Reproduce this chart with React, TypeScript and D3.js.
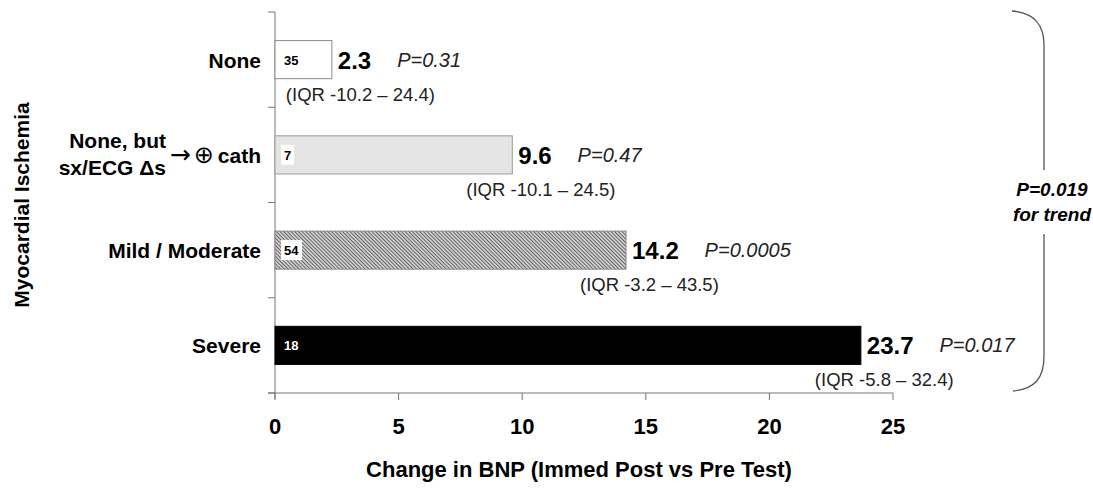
import * as d3 from "d3";

// categories top to bottom
const categories = ["None", "None, but sx/ECG Δs → ⊕ cath", "Mild / Moderate", "Severe"];
const medianChange = [2.3, 9.6, 14.2, 23.7];
const counts = [35, 7, 54, 18];
const pValues = ["P=0.31", "P=0.47", "P=0.0005", "P=0.017"];
const iqrLabels = ["(IQR -10.2 – 24.4)", "(IQR -10.1 – 24.5)", "(IQR -3.2 – 43.5)", "(IQR -5.8 – 32.4)"];
const xTicks = [0, 5, 10, 15, 20, 25];
const trendLabel = ["P=0.019", "for trend"];

const W = 1093;
const H = 491;
const FONT = "'Liberation Sans', Arial, Helvetica, sans-serif";

const fills = ["#ffffff", "url(#stipple)", "url(#hatch)", "#000000"];
const strokes = ["#8a8a8a", "#9a9a9a", "#8a8a8a", "#000000"];

export default function App() {
  const x = d3.scaleLinear().domain([0, 25]).range([275, 893]);
  const y = d3
    .scaleBand<string>()
    .domain(categories)
    .range([12, 393])
    .paddingInner(0.6)
    .paddingOuter(0.3);

  const step = y.step();
  const top = 12;
  const axisY = 393;
  // separator ticks on the category axis
  const catTicks = d3.range(categories.length + 1).map((i) => top + i * step);

  // rough width of a bold 24px number label
  const numWidth = (s: string) =>
    s.split("").reduce((a, c) => a + (c === "." ? 6.7 : 13.3), 0);

  return (
    <svg
      width={W}
      height={H}
      style={{ position: "absolute", left: 0, top: 0, background: "#fff" }}
      fontFamily={FONT}
    >
      <defs>
        <pattern id="hatch" width="2.6" height="2.6" patternUnits="userSpaceOnUse" patternTransform="rotate(-45)">
          <rect width="2.6" height="2.6" fill="#cfcfcf" />
          <line x1="0" y1="0" x2="0" y2="2.6" stroke="#404040" strokeWidth="1.4" />
        </pattern>
        <pattern id="stipple" width="4" height="4" patternUnits="userSpaceOnUse">
          <rect width="4" height="4" fill="#e6e6e6" />
          <rect x="1" y="1" width="1" height="1" fill="#d6d6d6" />
          <rect x="3" y="3" width="1" height="1" fill="#dcdcdc" />
        </pattern>
      </defs>

      {/* axes */}
      <g stroke="#777" strokeWidth={1} fill="none">
        <line x1={275} x2={275} y1={top} y2={axisY + 6} />
        {catTicks.map((t, i) => (
          <line key={i} x1={268} x2={275} y1={t} y2={t} />
        ))}
        <line x1={268} x2={x(25)} y1={axisY} y2={axisY} />
        {xTicks.map((t) => (
          <line key={t} x1={x(t)} x2={x(t)} y1={axisY} y2={axisY + 7} />
        ))}
      </g>

      {xTicks.map((t) => (
        <text key={t} x={x(t)} y={434} textAnchor="middle" fontSize={22} fontWeight="bold">
          {t}
        </text>
      ))}

      <text x={579} y={477} textAnchor="middle" fontSize={22} fontWeight="bold">
        Change in BNP (Immed Post vs Pre Test)
      </text>
      <text
        transform={`translate(29, 205) rotate(-90)`}
        textAnchor="middle"
        fontSize={21}
        fontWeight="bold"
      >
        Myocardial Ischemia
      </text>

      {/* bars */}
      {categories.map((c, i) => {
        const y0 = y(c)!;
        const bh = y.bandwidth();
        const cy = y0 + bh / 2;
        const xe = x(medianChange[i]);
        const valStr = medianChange[i].toFixed(1);
        const dark = i === 3;
        return (
          <g key={c}>
            <rect
              x={x(0)}
              y={y0}
              width={xe - x(0)}
              height={bh}
              fill={fills[i]}
              stroke={strokes[i]}
              strokeWidth={1}
            />
            {!dark && i > 0 && (
              <rect x={x(0) + 6} y={cy - 10} width={i === 1 ? 13 : 21} height={20} fill="#fff" />
            )}
            <text
              x={x(0) + 9}
              y={cy + 5}
              fontSize={13}
              fontWeight="bold"
              fill={dark ? "#fff" : "#000"}
            >
              {counts[i]}
            </text>
            <text x={xe + 6} y={cy + 9} fontSize={24} fontWeight="bold">
              {valStr}
            </text>
            <text x={xe + 6 + numWidth(valStr) + 26} y={cy + 7} fontSize={20} fontStyle="italic" fill="#222">
              {pValues[i]}
            </text>
            <text x={Math.max(x(0) + 6, xe - 46)} y={cy + 41} fontSize={18.5} fill="#222">
              {iqrLabels[i]}
            </text>
          </g>
        );
      })}

      {/* category labels */}
      {categories.map((c, i) => {
        const cy = y(c)! + y.bandwidth() / 2;
        if (i === 1) {
          return (
            <g key={c} fontSize={21} fontWeight="bold">
              <text x={166} y={cy - 7} textAnchor="end">None, but</text>
              <text x={166} y={cy + 20} textAnchor="end">sx/ECG Δs</text>
              <text x={261} y={cy + 8} textAnchor="end">
                <tspan fontFamily="'DejaVu Sans', sans-serif" fontWeight="normal" fontSize={25}>→</tspan>
                <tspan fontFamily="'DejaVu Sans', sans-serif" fontWeight="normal" fontSize={24} dx={3}>⊕</tspan>
                <tspan dx={4}>cath</tspan>
              </text>
            </g>
          );
        }
        return (
          <text key={c} x={261} y={cy + 8} textAnchor="end" fontSize={21} fontWeight="bold">
            {c}
          </text>
        );
      })}

      {/* trend bracket */}
      <path
        d="M1012,11 C1035,13 1044,25 1044,45 L1044,170 M1044,234 L1044,356 C1044,378 1035,389 1013,391"
        fill="none"
        stroke="#555"
        strokeWidth={1.3}
      />
      {trendLabel.map((t, i) => (
        <text key={t} x={1052} y={196 + i * 25} textAnchor="middle" fontSize={19} fontWeight="bold" fontStyle="italic">
          {t}
        </text>
      ))}
    </svg>
  );
}
